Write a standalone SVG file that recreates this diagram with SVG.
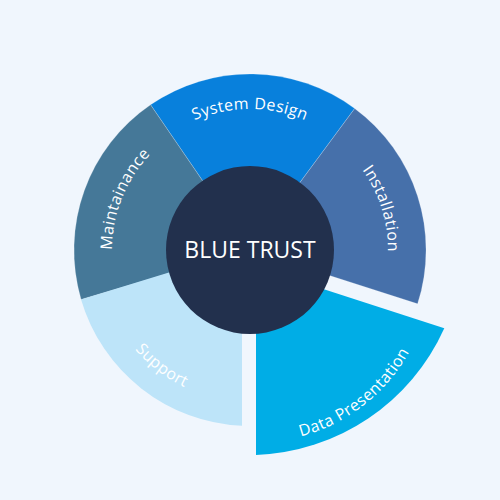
<svg xmlns="http://www.w3.org/2000/svg" width="500" height="500" viewBox="0 0 500 500">
  <style>
    .seg { stroke: #ffffff; stroke-opacity: 0.25; stroke-width: 0.8; }
    .lbl { font-family: "Open Sans", "Noto Sans", sans-serif; font-size: 16px; font-weight: 500; letter-spacing: 0.4px; fill: #ffffff; }
    .center { font-family: "Open Sans", "Noto Sans", sans-serif; font-size: 23px; font-weight: 500; fill: #ffffff; }
  </style>
  <defs>
    <path id="p-sys" d="M179.5,127.9 A141,141 0 0 1 320.5,127.9"/>
    <path id="p-maint" d="M113.3,269.2 A138,138 0 0 1 165.0,141.3"/>
    <path id="p-inst" d="M343.4,148.4 A138,138 0 0 1 384.7,280.1"/>
    <path id="p-sup" d="M109.8,308.7 A152,152 0 0 0 230.7,400.8"/>
    <path id="p-dp" d="M280.4,440.5 A175,175 0 0 0 418.3,332.8"/>
  </defs>
  <rect x="0" y="0" width="500" height="500" fill="#f0f6fd"/>

  <g id="system-design">
    <path class="seg" d="M250,250 L150.56,104.78 A176,176 0 0 1 354.7,108.5 Z" fill="#0880dc"/>
    <text class="lbl"><textPath href="#p-sys" startOffset="50%" text-anchor="middle">System Design</textPath></text>
  </g>
  <g id="installation">
    <path class="seg" d="M250,250 L354.7,108.5 A176,176 0 0 1 417.6,303.8 Z" fill="#4670aa"/>
    <text class="lbl"><textPath href="#p-inst" startOffset="50%" text-anchor="middle">Installation</textPath></text>
  </g>
  <g id="maintainance">
    <path class="seg" d="M250,250 L81.07,299.4 A176,176 0 0 1 150.56,104.78 Z" fill="#457898"/>
    <text class="lbl"><textPath href="#p-maint" startOffset="50%" text-anchor="middle">Maintainance</textPath></text>
  </g>
  <g id="support">
    <path d="M242,250 L242,425.8 A176,176 0 0 1 81.07,299.4 Z" fill="#bde4f9"/>
    <text class="lbl"><textPath href="#p-sup" startOffset="50%" text-anchor="middle">Support</textPath></text>
  </g>
  <g id="data-presentation">
    <path d="M256,267.2 L444.3,328.3 A215,215 0 0 1 256,455 Z" fill="#00ade6"/>
    <text class="lbl"><textPath href="#p-dp" startOffset="50%" text-anchor="middle">Data Presentation</textPath></text>
  </g>
  <g id="blue-trust">
    <circle cx="250" cy="250" r="84" fill="#22304d"/>
    <text class="center" x="250" y="258" text-anchor="middle">BLUE TRUST</text>
  </g>
  <g id="connectors"/>
</svg>
